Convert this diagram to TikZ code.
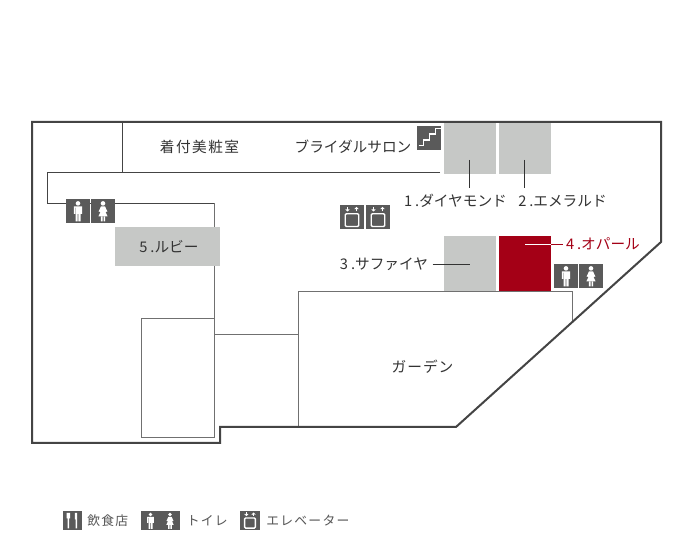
\documentclass[tikz,border=0pt]{standalone}
\usepackage{fontspec}
\setmainfont{Noto Sans CJK JP}[LetterSpace=0]
\newfontfamily\widefont{Noto Sans CJK JP}[LetterSpace=10]
\newfontfamily\midfont{Noto Sans CJK JP}[LetterSpace=7]
\newfontfamily\legendfont{Noto Sans CJK JP}[LetterSpace=10]
\usetikzlibrary{arrows.meta}
\definecolor{wall}{HTML}{444444}
\definecolor{inner}{HTML}{707070}
\definecolor{ink}{HTML}{333333}
\definecolor{room}{HTML}{C6C8C6}
\definecolor{ruby}{HTML}{A40016}
\definecolor{icon}{HTML}{5A5A5A}
\definecolor{legendink}{HTML}{555555}
\newcommand{\dotgap}{\kern2.2pt}
\tikzset{
  x=0.75pt,y=-0.75pt,
  outerwall/.style={draw=wall,line width=1.5pt,line join=miter},
  innerwall/.style={draw=inner,line width=0.75pt},
  darkwall/.style={draw=wall,line width=0.75pt},
  leader/.style={draw=ink,line width=0.6pt},
  roombox/.style={fill=room,draw=none,inner sep=0pt},
  label/.style={text=ink,font=\fontsize{11pt}{13pt}\selectfont,inner sep=0pt},
  redlabel/.style={label,text=ruby},
  legendlabel/.style={text=legendink,font=\legendfont\fontsize{9.6pt}{11pt}\selectfont,inner sep=0pt},
  man/.pic={
    \fill[icon] (-12,-12) rectangle (12,12);
    \fill[white] (0,-7.6) circle (2.3);
    \fill[white] (-4.2,-4.6) rectangle (-2.9,3) (2.9,-4.6) rectangle (4.2,3)
      (-4.2,-4.6) rectangle (4.2,-3.4)
      (-2.5,-4.6) rectangle (2.5,3) (-2.5,3) rectangle (-0.35,10.5) (0.35,3) rectangle (2.5,10.5);
  },
  woman/.pic={
    \fill[icon] (-12,-12) rectangle (12,12);
    \fill[white] (0,-7.6) circle (2.3);
    \fill[white] (-2,-4.6) -- (2,-4.6) -- (4.4,0.5) -- (2.6,1) -- (4.6,5.5) -- (-4.6,5.5) -- (-2.6,1) -- (-4.4,0.5) -- cycle;
    \fill[white] (-2.2,5.5) rectangle (-0.5,10.5) (0.5,5.5) rectangle (2.2,10.5);
  },
  lift/.pic={
    \fill[icon] (-12,-12) rectangle (12,12);
    \draw[white,line width=1pt,rounded corners=0.8pt] (-6.7,-3.2) rectangle (6.7,9.5);
    \draw[white,line width=0.6pt,-{Straight Barb[length=1.2pt,width=2.6pt]}] (-4.5,-10) -- (-4.5,-5.5);
    \draw[white,line width=0.6pt,-{Straight Barb[length=1.2pt,width=2.6pt]}] (4.5,-5.5) -- (4.5,-10);
  },
  stairs/.pic={
    \fill[icon] (-12,-12) rectangle (12,12);
    \draw[white,line width=0.85pt] (-10.3,7.7) -- (-5.3,7.7) -- (-5.3,2) -- (0.3,2) -- (0.3,-4) -- (6.3,-4) -- (6.3,-9.7) -- (12,-9.7);
  },
  cutlery/.pic={
    \fill[icon] (-9.5,-9.5) rectangle (9.5,9.5);
    \fill[white] (-5.5,-7.5) rectangle (-1.8,-2) (-4.3,-2) rectangle (-3,8);
    \fill[white] (2.8,-7.5) -- (5,-7.5) -- (5,8) -- (3.7,8) -- (3.7,-1) -- (2.8,-1) -- cycle;
  },
}
\begin{document}
\begin{tikzpicture}
\useasboundingbox (0,0) rectangle (683,555);
\fill[white] (0,0) rectangle (683,555);

% rooms
\fill[room] (444,123) rectangle (496,174);
\fill[room] (499,123) rectangle (551,174);
\fill[room] (444,236) rectangle (496,292);
\fill[ruby] (499,236) rectangle (551,292);

% inner walls
\draw[darkwall] (122.5,122) -- (122.5,172.5);
\draw[darkwall] (440,172.5) -- (47.5,172.5) -- (47.5,203.5) -- (214,203.5);
\draw[innerwall] (214,203.5) -- (214,438) -- (141.5,438) -- (141.5,318.5) -- (214,318.5);
\draw[innerwall] (214,335) -- (298,335);
\draw[innerwall] (298,427) -- (298,292) -- (572.5,292) -- (572.5,322);

% ruby room on top of the wall
\node[roombox,minimum width=78.4pt,minimum height=29.25pt] (ruby) at (167.5,246.5) {};
\node[label] (rubyl) at (169,247) {5\dotgap.ルビー};

% outer wall
\draw[outerwall] (32,122) -- (661,122) -- (661,242) -- (456,427) -- (220,427) -- (220,443) -- (32,443) -- cycle;

% labels
\node[label,font=\widefont\fontsize{11pt}{13pt}\selectfont] (kitsuke) at (199.5,147) {着付美粧室};
\node[label] (salon) at (353,147) {ブライダルサロン};
\node[label] (dia) at (455.5,201) {1\dotgap.ダイヤモンド};
\node[label] (eme) at (562.5,201) {2\dotgap.エメラルド};
\node[label] (sap) at (384,264) {3\dotgap.サファイヤ};
\node[redlabel] (opal) at (603,244) {4\dotgap.オパール};
\node[label,font=\midfont\fontsize{11pt}{13pt}\selectfont] (garden) at (422.5,367) {ガーデン};

% leaders
\coordinate (d1) at (469.5,160); \coordinate (d2) at (469.5,188);
\coordinate (e1) at (524.5,160); \coordinate (e2) at (524.5,188);
\coordinate (s1) at (432.5,264.5); \coordinate (s2) at (470,264.5);
\coordinate (o1) at (525,244.5); \coordinate (o2) at (551,244.5); \coordinate (o3) at (563,244.5);
\draw[leader] (d1) -- (d2);
\draw[leader] (e1) -- (e2);
\draw[leader] (s1) -- (s2);
\draw[draw=white,line width=0.6pt] (o1) -- (o2);
\draw[draw=ruby,line width=0.6pt] (o2) -- (o3);

% icons
\pic at (429,138) {stairs};
\pic at (352,217) {lift};
\pic at (378,217) {lift};
\pic at (78,211) {man};
\pic at (103,211) {woman};
\pic at (566,276) {man};
\pic at (591,276) {woman};

% legend
\pic at (72,520.5) {cutlery};
\node[legendlabel,anchor=west] (lfood) at (87,521) {飲食店};
\pic[scale=0.8] at (150.5,520.5) {man};
\pic[scale=0.8] at (170,520.5) {woman};
\node[legendlabel,anchor=west] (lwc) at (186.5,521) {トイレ};
\pic[scale=0.8] at (250,520.5) {lift};
\node[legendlabel,anchor=west] (llift) at (266,521) {エレベーター};
\end{tikzpicture}
\end{document}
